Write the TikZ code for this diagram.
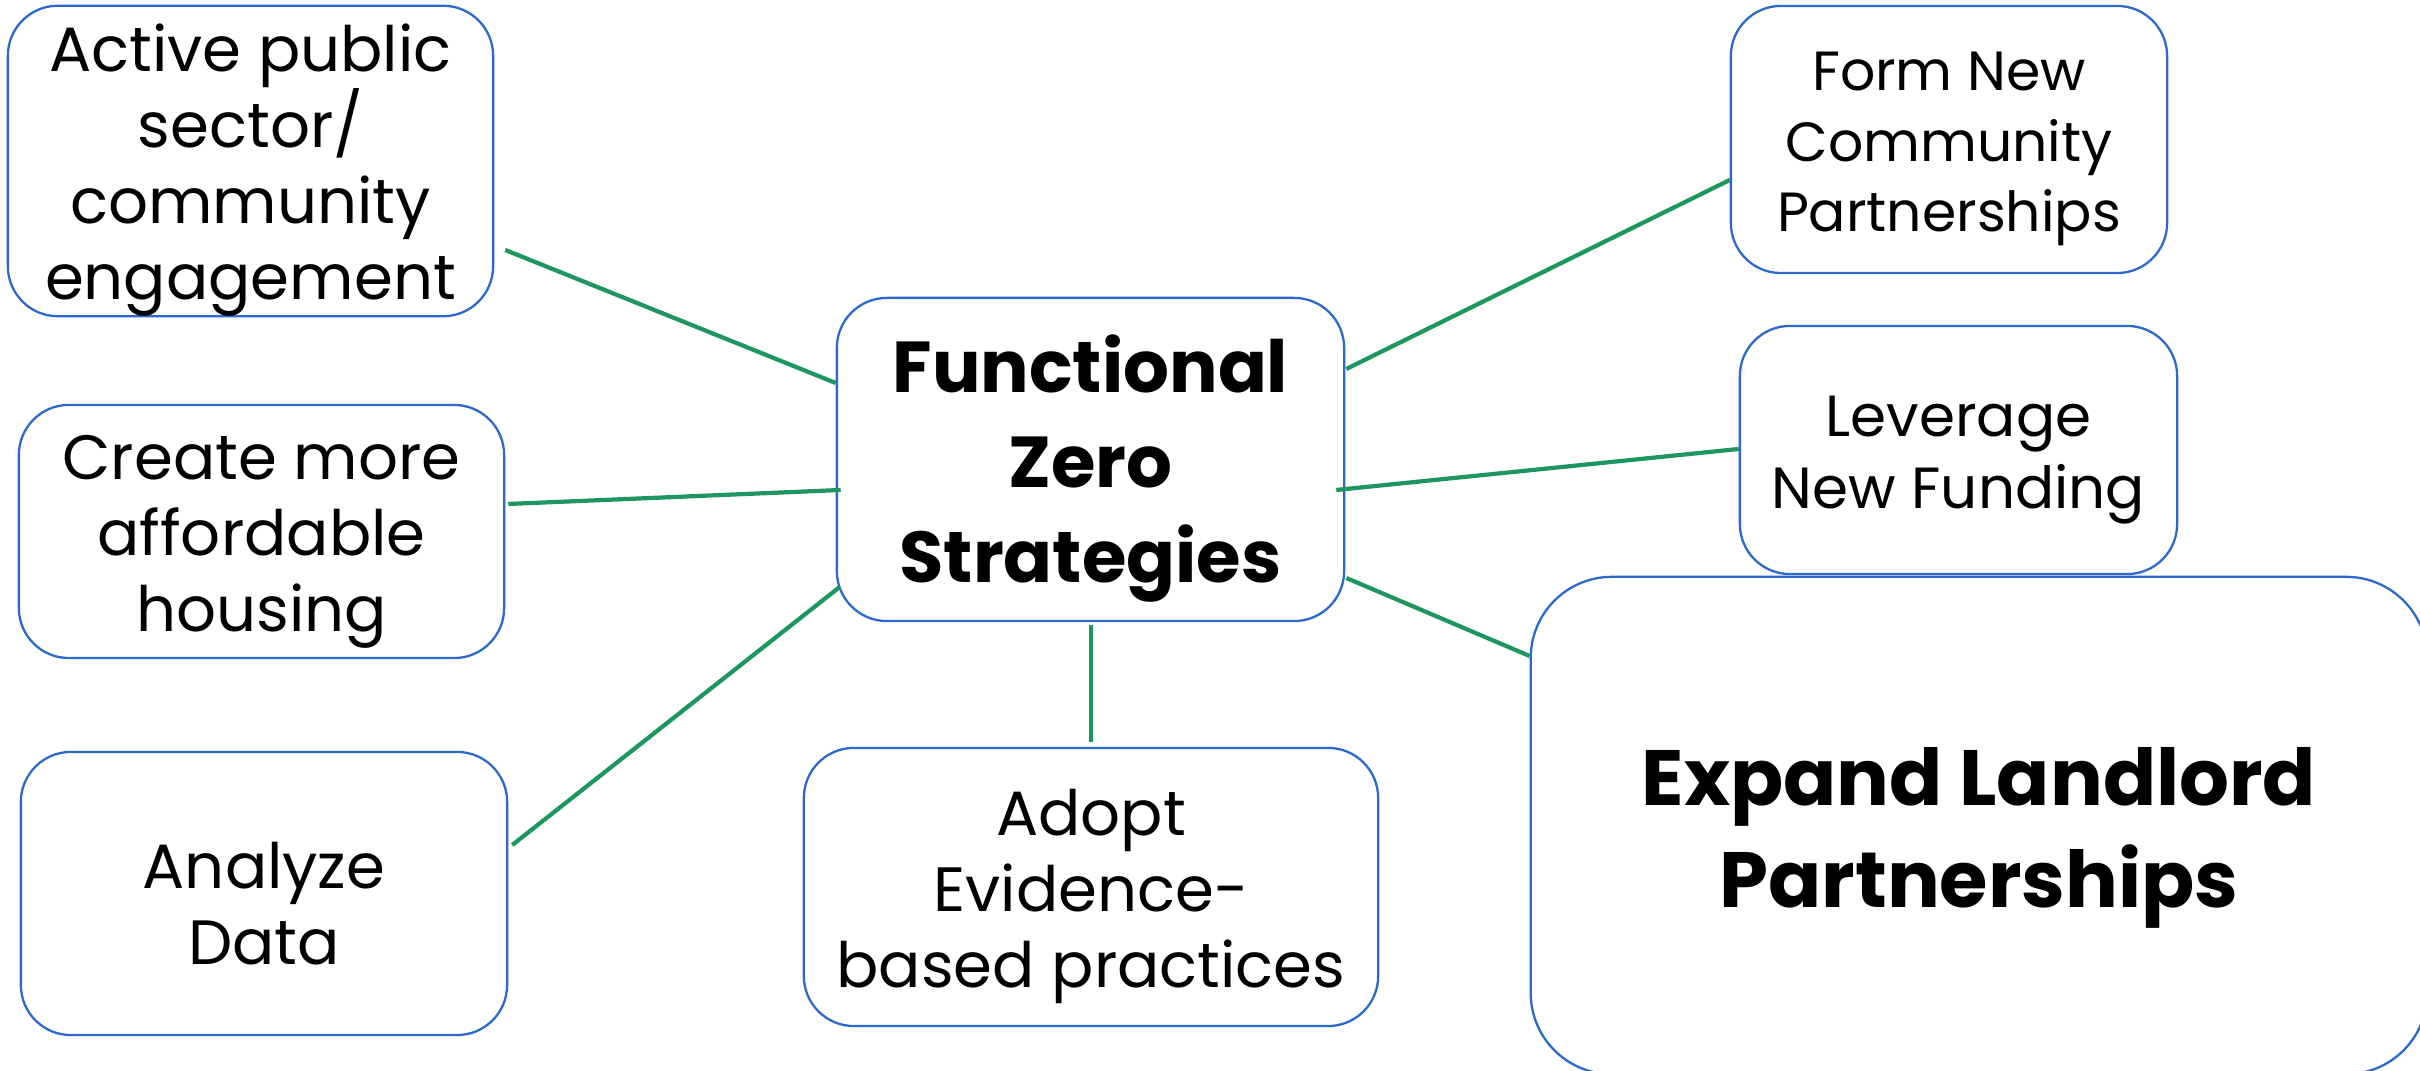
\documentclass[tikz,border=0pt]{standalone}
\usepackage{fontspec}
\setmainfont{Poppins}
\usetikzlibrary{positioning, calc}
\definecolor{boxblue}{RGB}{45,105,205}
\definecolor{linkgreen}{RGB}{30,150,95}
\newcommand{\boxstrut}{\rule{0pt}{1.05em}}
\tikzstyle{strategy} = [
  rectangle,
  rounded corners=0.5cm,
  align=center,
  draw=boxblue,
  line width=0.65pt,
  fill=white,
  inner sep=0,
  font=\fontsize{17.8}{21.6}\selectfont
]
\tikzstyle{partner} = [
  strategy,
  font=\fontsize{15.7}{20}\selectfont
]
\tikzstyle{core} = [
  strategy,
  font=\fontsize{20.5}{27}\selectfont\bfseries
]
\tikzstyle{landlord} = [
  strategy,
  rounded corners=0.81cm,
  font=\fontsize{22.3}{29}\selectfont\bfseries
]
\tikzstyle{link} = [
  line width=1.2pt,
  draw=linkgreen
]

\begin{document}
\begin{tikzpicture}[x=0.01cm, y=-0.01cm]

    \useasboundingbox [fill=white] (0,0) rectangle (2420,1071);

    \node (zero) [core, minimum width=5.07cm, minimum height=3.23cm] at (1090.5,459.5) {\boxstrut Functional\\Zero\\Strategies};
    \node (active) [strategy, minimum width=4.85cm, minimum height=3.1cm] at (250.5,161) {\boxstrut Active public\\sector/\\community\\engagement};
    \node (housing) [strategy, minimum width=4.85cm, minimum height=2.53cm] at (261.5,531.5) {\boxstrut Create more\\affordable\\housing};
    \node (data) [strategy, minimum width=4.86cm, minimum height=2.83cm] at (264,893.5) {\boxstrut Analyze\\Data};
    \node (evidence) [strategy, minimum width=5.74cm, minimum height=2.78cm] at (1091,887) {\boxstrut Adopt\\Evidence-\\based practices};
    \node (community) [partner, minimum width=4.36cm, minimum height=2.67cm] at (1949,139.5) {\boxstrut Form New\\Community\\Partnerships};
    \node (funding) [partner, font=\fontsize{16.5}{20.5}\selectfont, minimum width=4.37cm, minimum height=2.48cm] at (1958.5,450) {\boxstrut Leverage\\New Funding};
    \node (landlord) [landlord, minimum width=8.96cm, minimum height=4.97cm] at (1979,825.5) {\boxstrut Expand Landlord\\Partnerships};

    \draw [link] ($(active.east)+(11,89)$) -- ($(zero.west)+(0,-76.5)$);
    \draw [link] ($(housing.east)+(3,-27.5)$) -- ($(zero.west)+(5,30.5)$);
    \draw [link] ($(data.east)+(4,-48.5)$) -- ($(zero.west)+(4,127.5)$);
    \draw [link] ($(zero.south)+(0.5,3)$) -- ($(evidence.north)+(0,-5)$);
    \draw [link] ($(zero.east)+(1,-90.5)$) -- ($(community.west)+(0,40.5)$);
    \draw [link] ($(zero.east)+(-9,30.5)$) -- ($(funding.west)+(0,-1)$);
    \draw [link] ($(zero.east)+(1,118.5)$) -- ($(landlord.west)+(0,-169.5)$);

  \end{tikzpicture}
\end{document}
